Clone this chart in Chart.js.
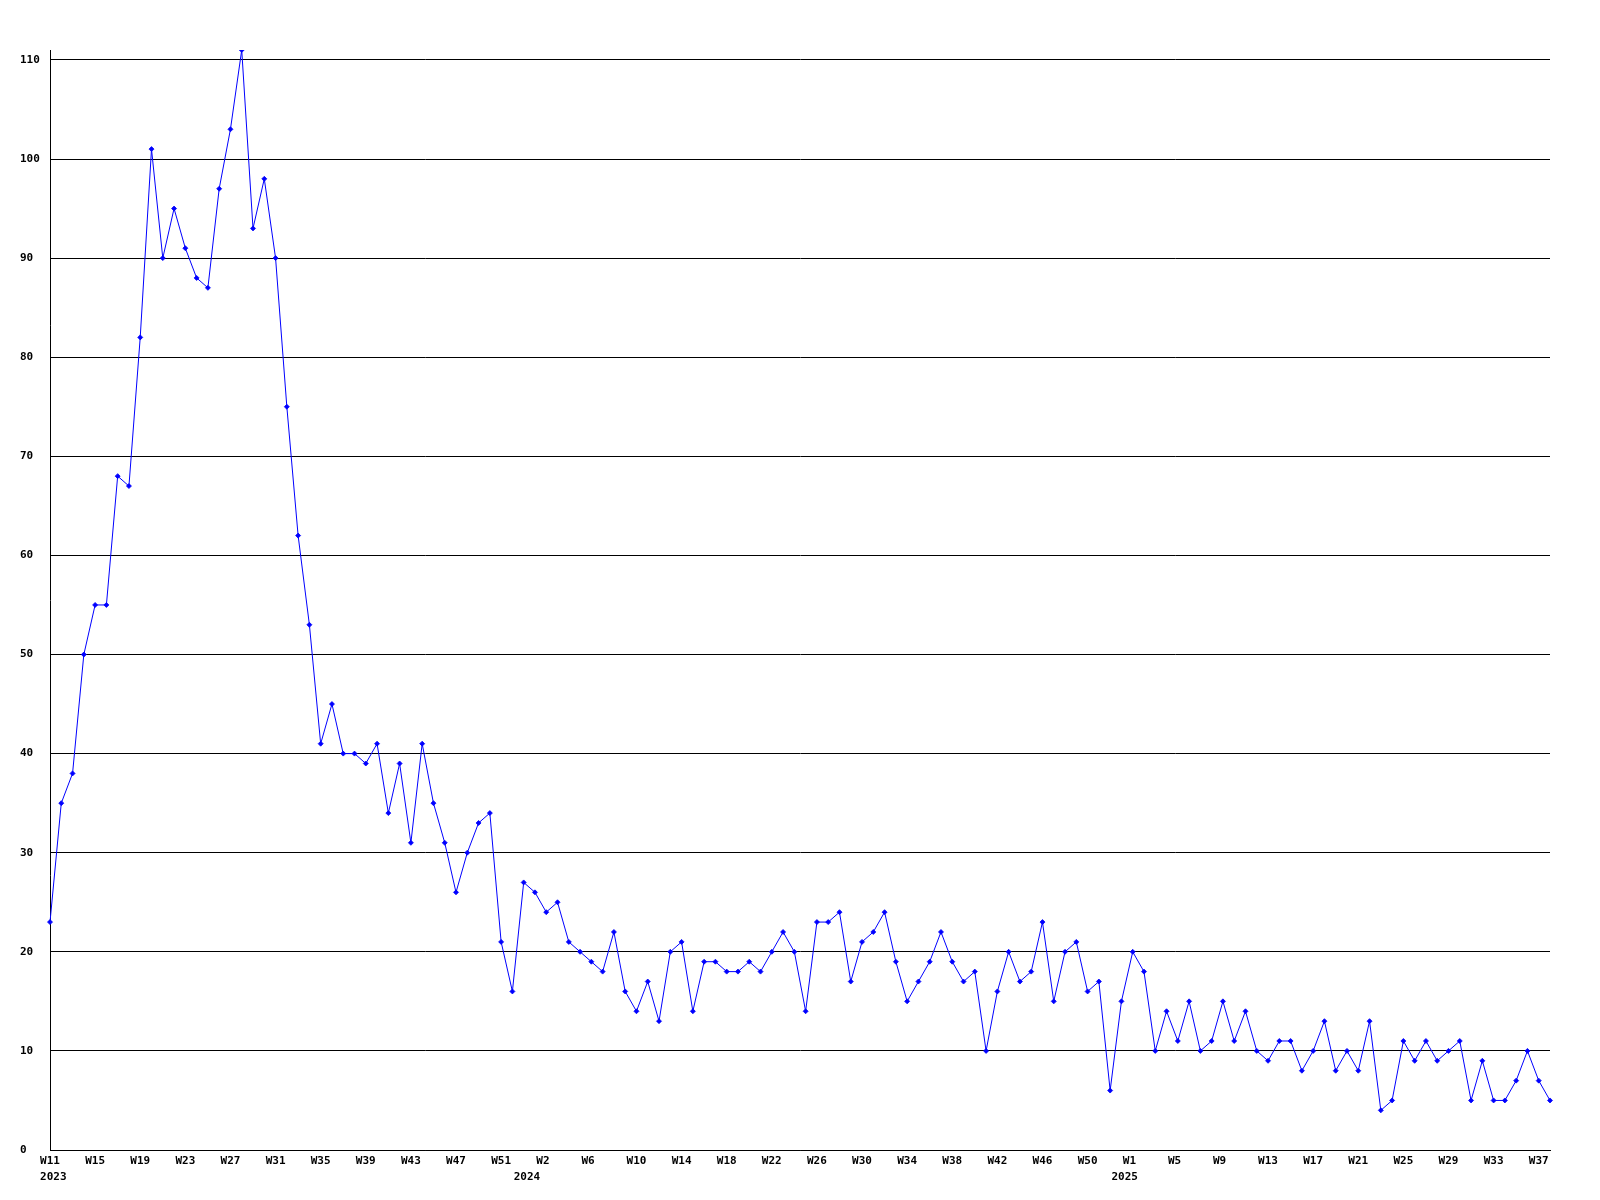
<!DOCTYPE html>
<html>
<head>
<meta charset="utf-8">
<title>Weekly counts</title>
<script src="https://cdn.jsdelivr.net/npm/chart.js@4/dist/chart.umd.min.js"></script>
<style>
  html, body { margin: 0; padding: 0; background: #fff; }
  #wrap { width: 1600px; height: 1200px; }
</style>
</head>
<body>
<div id="wrap"><canvas id="weeklyChart" width="1600" height="1200"></canvas></div>
<script>
// weekly values, one array per year
const counts2023 = [ // W11..W52
  23, 35, 38, 50, 55, 55, 68, 67, 82, 101,
  90, 95, 91, 88, 87, 97, 103, 111, 93, 98,
  90, 75, 62, 53, 41, 45, 40, 40, 39, 41,
  34, 39, 31, 41, 35, 31, 26, 30, 33, 34,
  21, 16
];
const counts2024 = [ // W0..W52
  27, 26, 24, 25, 21, 20, 19, 18, 22, 16,
  14, 17, 13, 20, 21, 14, 19, 19, 18, 18,
  19, 18, 20, 22, 20, 14, 23, 23, 24, 17,
  21, 22, 24, 19, 15, 17, 19, 22, 19, 17,
  18, 10, 16, 20, 17, 18, 23, 15, 20, 21,
  16, 17, 6
];
const counts2025 = [ // W0..W38
  15, 20, 18, 10, 14, 11, 15, 10, 11, 15,
  11, 14, 10, 9, 11, 11, 8, 10, 13, 8,
  10, 8, 13, 4, 5, 11, 9, 11, 9, 10,
  11, 5, 9, 5, 5, 7, 10, 7, 5
];

// week ranges per year (first week, last week)
const yearWeeks = [
  ['2023', 11, 52],
  ['2024', 0, 52],
  ['2025', 0, 38],
];

const yTicks = [0, 10, 20, 30, 40, 50, 60, 70, 80, 90, 100, 110];
const Y_MAX = 111;
const LABEL_EVERY = 4;

const weekLabels = [];
const yearStarts = {};
yearWeeks.forEach(([year, first, last]) => {
  yearStarts[weekLabels.length] = year;
  for (let w = first; w <= last; w++) weekLabels.push('W' + w);
});
const counts = [...counts2023, ...counts2024, ...counts2025];

// the original starts every label ~1.5 chars left of its tick; pad the
// (monospace) text so centred labels land in the same place
function padLabel(text) {
  const pad = 3 - text.length;
  return pad >= 0 ? text + ' '.repeat(pad) : ' '.repeat(-pad) + text;
}

const FONT = { family: '"DejaVu Sans Mono", "Liberation Mono", monospace', size: 11, weight: 'bold', lineHeight: 1.45 };

new Chart(document.getElementById('weeklyChart'), {
  type: 'line',
  data: {
    labels: weekLabels,
    datasets: [{
      data: counts,
      borderColor: '#0000ff',
      borderWidth: 1,
      tension: 0,
      fill: false,
      pointStyle: 'rectRot',
      pointRadius: 2.5,
      pointBackgroundColor: '#0000ff',
      pointBorderColor: '#0000ff',
      pointBorderWidth: 0.8,
    }]
  },
  options: {
    responsive: false,
    animation: false,
    layout: { padding: { left: 20, top: 50, right: 50, bottom: 0 } },
    plugins: { legend: { display: false }, tooltip: { enabled: false } },
    scales: {
      x: {
        offset: false,
        grid: { display: false, drawTicks: false },
        border: { display: true, color: '#000', width: 1 },
        ticks: {
          autoSkip: false,
          minRotation: 0,
          maxRotation: 0,
          padding: 3,
          color: '#000',
          font: FONT,
          callback: (value, index) => {
            const lines = [index % LABEL_EVERY === 0 ? padLabel(weekLabels[index]) : ''];
            if (yearStarts[index]) lines.push(padLabel(yearStarts[index]));
            return lines.length > 1 ? lines : lines[0];
          }
        },
        afterFit: scale => { scale.height = 50; }
      },
      y: {
        min: 0,
        max: Y_MAX,
        grid: { color: '#000', lineWidth: 1, drawTicks: false },
        border: { display: true, color: '#000', width: 1 },
        ticks: {
          includeBounds: false,
          crossAlign: 'far',
          color: '#000',
          font: FONT,
        },
        afterBuildTicks: scale => { scale.ticks = yTicks.map(v => ({ value: v })); },
        afterFit: scale => { scale.width = 30; }
      }
    }
  }
});
</script>
</body>
</html>
